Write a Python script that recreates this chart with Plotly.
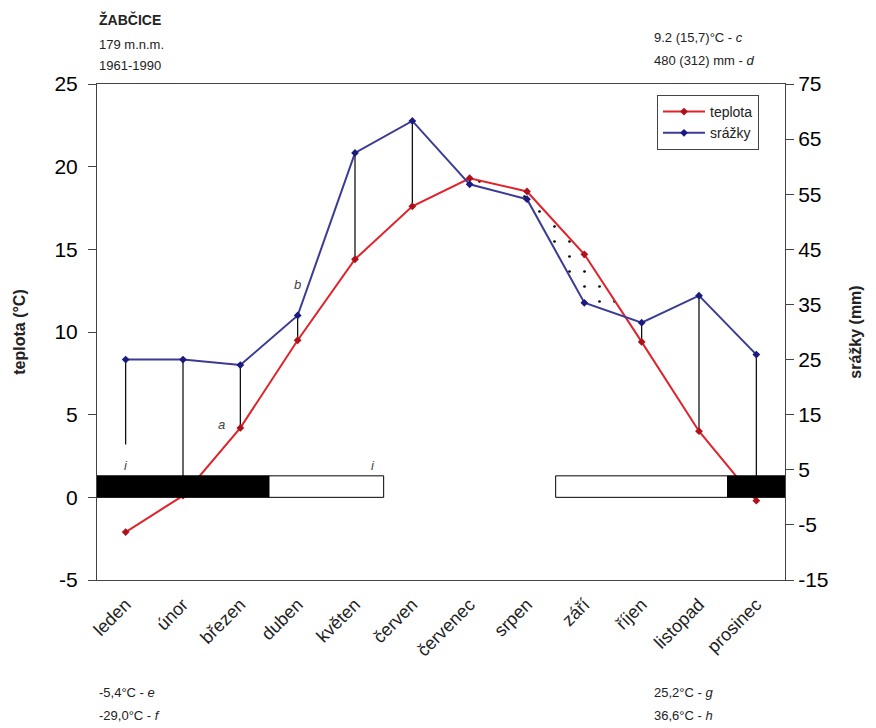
import plotly.graph_objects as go

# ---------------- data ----------------
mesice = ["leden", "únor", "březen", "duben", "květen", "červen",
          "červenec", "srpen", "září", "říjen", "listopad", "prosinec"]
teplota = [-2.1, 0.1, 4.2, 9.5, 14.4, 17.6, 19.3, 18.5, 14.7, 9.4, 4.0, -0.2]      # °C
srazky = [25.0, 25.0, 24.0, 33.0, 62.5, 68.3, 56.8, 54.1, 35.3, 31.7, 36.6, 25.9]  # mm
# lower ends (°C) of the vertical lines of the humid period (None = no line)
spojnice_dolni = [3.2, 0.0, 4.2, 9.5, 14.4, 17.6, None, None, None, 9.4, 4.0, 0.0]
# frost bar: 'jisty' = sure frost (black), 'mozny' = possible frost (white), '' = none
mrazy = ["jisty", "jisty", "jisty", "mozny", "mozny", "", "", "", "mozny", "mozny", "mozny", "jisty"]

teplota_ticks = [-5, 0, 5, 10, 15, 20, 25]
teplota_ticktext = ["-5", "0", "5", "10", "15", "20", "25"]
srazky_ticks = [-15, -5, 5, 15, 25, 35, 45, 55, 65, 75]
srazky_ticktext = ["-15", "-5", "5", "15", "25", "35", "45", "55", "65", "75"]
MM_PER_C = 3.0  # right-axis scale: 3 mm per 1 °C

FONT = "Liberation Sans, Arial, sans-serif"
RED = "#e0232b"
BLUE = "#3b3b96"
AX = "#444"
BAR_H = 1.3

x = list(range(len(mesice)))
srazky_c = [v / MM_PER_C for v in srazky]

fig = go.Figure()

# ---- dotted dry-period area (temperature above precipitation) ----
def dry_polygons():
    n = len(x)
    d = [teplota[i] - srazky_c[i] for i in range(n)]
    polys = []
    i = 0
    while i < n:
        if d[i] <= 0:
            i += 1
            continue
        start = i
        j = i
        while j < n and d[j] > 0:
            j += 1
        top_x, top_y = [], []
        if start > 0:
            f = d[start - 1] / (d[start - 1] - d[start])
            top_x.append(x[start - 1] + f)
            top_y.append(teplota[start - 1] + (teplota[start] - teplota[start - 1]) * f)
        for k in range(start, j):
            top_x.append(x[k]); top_y.append(teplota[k])
        if j < n:
            f = d[j - 1] / (d[j - 1] - d[j])
            top_x.append(x[j - 1] + f)
            top_y.append(teplota[j - 1] + (teplota[j] - teplota[j - 1]) * f)
        bot_x = [x[k] for k in range(j - 1, start - 1, -1)]
        bot_y = [srazky_c[k] for k in range(j - 1, start - 1, -1)]
        polys.append((top_x + bot_x + [top_x[0]], top_y + bot_y + [top_y[0]]))
        i = j
    return polys

for px, py in dry_polygons():
    fig.add_trace(go.Scatter(
        x=px, y=py, mode="lines", fill="toself", line=dict(width=0),
        fillcolor="rgba(0,0,0,0)",
        fillpattern=dict(shape=".", fgcolor="black", fgopacity=1,
                         bgcolor="rgba(0,0,0,0)", size=15, solidity=0.025),
        showlegend=False, hoverinfo="skip"))

# ---- vertical lines of the humid period ----
vx, vy = [], []
for i, b in enumerate(spojnice_dolni):
    if b is None:
        continue
    vx += [x[i], x[i], None]
    vy += [srazky_c[i], b, None]
fig.add_trace(go.Scatter(x=vx, y=vy, mode="lines", line=dict(color="black", width=1.2),
                         showlegend=False, hoverinfo="skip"))

# ---- main series ----
fig.add_trace(go.Scatter(
    x=x, y=teplota, name="teplota", mode="lines+markers",
    line=dict(color=RED, width=2),
    marker=dict(symbol="diamond", size=6, color="#b0101a"), yaxis="y"))
fig.add_trace(go.Scatter(
    x=x, y=srazky, name="srážky", mode="lines+markers",
    line=dict(color=BLUE, width=2),
    marker=dict(symbol="diamond", size=6, color="#1a1a80"), yaxis="y2"))

# ---- frost bar ----
i = 0
while i < len(mrazy):
    kind = mrazy[i]
    if not kind:
        i += 1
        continue
    j = i
    while j < len(mrazy) and mrazy[j] == kind:
        j += 1
    x0, x1 = x[i] - 0.5, x[j - 1] + 0.5
    fig.add_trace(go.Scatter(
        x=[x0, x1, x1, x0, x0], y=[0, 0, BAR_H, BAR_H, 0], mode="lines", fill="toself",
        fillcolor="black" if kind == "jisty" else "white",
        line=dict(color="black", width=1), showlegend=False, hoverinfo="skip"))
    i = j

# ---- annotations (letters) ----
letters = [("a", 1.68, 4.4), ("b", 3.0, 12.9), ("i", 0.0, 1.9), ("i", 4.31, 1.9)]
for t, ax_, ay_ in letters:
    fig.add_annotation(x=ax_, y=ay_, text=f"<i>{t}</i>", showarrow=False,
                       font=dict(family=FONT, size=13, color="#444"))

PX0, PX1, PY0, PY1 = 97, 785, 84, 580
def paper_x(px): return (px - PX0) / (PX1 - PX0)
def paper_y(py): return (PY1 - py) / (PY1 - PY0)

texts = [
    ("<b>ŽABČICE</b>", 97, 20, 14),
    ("179 m.n.m.", 97, 44, 13),
    ("1961-1990", 97, 66, 13),
    ("9.2 (15,7)°C - <i>c</i>", 652, 38, 13),
    ("480 (312) mm - <i>d</i>", 652, 60, 13),
    ("-5,4°C - <i>e</i>", 97, 692, 13),
    ("-29,0°C - <i>f</i>", 97, 715, 13),
    ("25,2°C - <i>g</i>", 652, 692, 13),
    ("36,6°C - <i>h</i>", 652, 715, 13),
]
for t, tx, ty, fs in texts:
    fig.add_annotation(xref="paper", yref="paper", x=paper_x(tx), y=paper_y(ty),
                       xanchor="left", yanchor="middle", text=t, showarrow=False,
                       font=dict(family=FONT, size=fs, color="#222"))

tickfont = dict(family=FONT, size=21, color="black")
xr = [-0.5, len(mesice) - 0.5]
yr = [teplota_ticks[0], teplota_ticks[-1]]
y2r = [srazky_ticks[0], srazky_ticks[-1]]

fig.update_layout(
    width=876, height=728,
    margin=dict(l=PX0, r=876 - PX1, t=PY0, b=728 - PY1),
    paper_bgcolor="white", plot_bgcolor="white",
    font=dict(family=FONT),
    showlegend=True,
    legend=dict(x=paper_x(657), y=paper_y(95), xanchor="left", yanchor="top",
                bordercolor="#444", borderwidth=1, bgcolor="white",
                font=dict(family=FONT, size=14, color="#222"),
                tracegroupgap=0, itemwidth=42),
    xaxis=dict(range=xr, tickmode="array", tickvals=x, ticktext=mesice,
               tickangle=-45, ticks="", showgrid=False, zeroline=False, automargin=False,
               showline=True, linecolor=AX, linewidth=1, mirror=True,
               ticklabelstandoff=6,
               tickfont=dict(family=FONT, size=18, color="#222")),
    xaxis2=dict(range=xr, overlaying="x", anchor="free", automargin=False,
                position=(0 - yr[0]) / (yr[1] - yr[0]),
                tickmode="array", tickvals=[v - 0.5 for v in x] + [x[-1] + 0.5],
                ticks="outside", ticklen=7, tickcolor=AX,
                showticklabels=False, showgrid=False, zeroline=False,
                showline=True, linecolor=AX, linewidth=1),
    yaxis=dict(range=yr, tickmode="array", tickvals=teplota_ticks, ticktext=teplota_ticktext,
               ticks="outside", ticklen=8, tickcolor=AX, automargin=False,
               ticklabelstandoff=6,
               showgrid=False, zeroline=False, showline=True, linecolor=AX,
               tickfont=tickfont,
               title=dict(text="<b>teplota (°C)</b>", font=dict(family=FONT, size=16, color="#222"),
                          standoff=24)),
    yaxis2=dict(range=y2r, tickmode="array", tickvals=srazky_ticks, ticktext=srazky_ticktext,
                overlaying="y", side="right", anchor="x", automargin=False,
                ticks="outside", ticklen=8, tickcolor=AX,
                showgrid=False, zeroline=False, showline=True, linecolor=AX,
                tickfont=tickfont,
                title=dict(text="<b>srážky (mm)</b>", font=dict(family=FONT, size=16, color="#222"),
                           standoff=22)),
    yaxis3=dict(range=yr, tickmode="array", tickvals=teplota_ticks, overlaying="y",
                side="left", anchor="x", ticks="inside", ticklen=8, tickcolor=AX,
                automargin=False,
                showticklabels=False, showgrid=False, zeroline=False, showline=False),
    yaxis4=dict(range=y2r, tickmode="array", tickvals=srazky_ticks, overlaying="y",
                side="right", anchor="x", ticks="inside", ticklen=8, tickcolor=AX,
                automargin=False,
                showticklabels=False, showgrid=False, zeroline=False, showline=False),
)

fig.write_html("out.html", config={"displayModeBar": False},
               post_script="document.body.style.margin='0';")
